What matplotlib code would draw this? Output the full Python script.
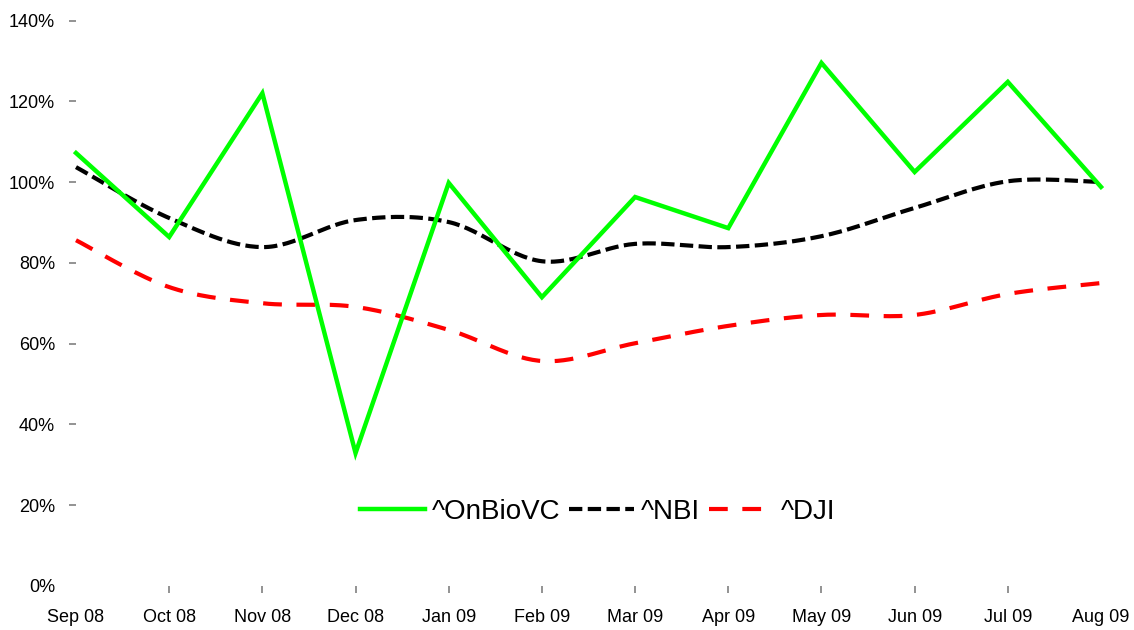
import numpy as np
import matplotlib
matplotlib.use("Agg")
import matplotlib.pyplot as plt

months = ["Sep 08", "Oct 08", "Nov 08", "Dec 08", "Jan 09", "Feb 09",
          "Mar 09", "Apr 09", "May 09", "Jun 09", "Jul 09", "Aug 09"]
onbiovc = [107.2, 86.4, 122.0, 32.9, 99.8, 71.5, 96.3, 88.6, 129.5, 102.5, 124.8, 98.8]
nbi = [103.7, 91.1, 83.9, 90.6, 90.1, 80.4, 84.7, 83.9, 86.6, 93.6, 100.2, 100.0]
dji = [85.6, 74.0, 70.0, 69.1, 63.4, 55.7, 60.1, 64.4, 67.1, 67.1, 72.3, 75.0]
yticks = [0, 20, 40, 60, 80, 100, 120, 140]
ylabels = [f"{v}%" for v in yticks]

plt.rcParams['font.family'] = ['Liberation Sans', 'DejaVu Sans']

W, H = 1134, 630
fig = plt.figure(figsize=(W / 100, H / 100), dpi=100)
left, right, bottom, top = 76, 1101, 586, 20.5
ax = fig.add_axes([left / W, (H - bottom) / H, (right - left) / W, (bottom - top) / H])

x = np.arange(len(months))
# pixel scale per unit (for screen-space smoothing like Excel)
sx = (right - left) / (len(months) - 1)
sy = (bottom - top) / 140.0


def smooth(xv, yv, n=30):
    P = np.column_stack([np.asarray(xv, float) * sx, np.asarray(yv, float) * sy])
    P = np.vstack([P[0], P, P[-1]])
    out = []
    for i in range(1, len(P) - 2):
        p0, p1, p2, p3 = P[i - 1], P[i], P[i + 1], P[i + 2]
        t = np.linspace(0, 1, n, endpoint=False)[:, None]
        c = 0.5 * ((2 * p1) + (-p0 + p2) * t + (2 * p0 - 5 * p1 + 4 * p2 - p3) * t ** 2
                   + (-p0 + 3 * p1 - 3 * p2 + p3) * t ** 3)
        out.append(c)
    out.append(P[-2][None, :])
    C = np.vstack(out)
    return C[:, 0] / sx, C[:, 1] / sy


ax.plot(x, onbiovc, color="#00ff00", lw=3.2, solid_joinstyle="miter",
        label="^OnBioVC", clip_on=False, zorder=3)
bx, by = smooth(x, nbi)
ax.plot(bx, by, color="black", lw=3.0, dashes=(3.2, 1.3), dash_capstyle="butt",
        label="^NBI", clip_on=False, zorder=2)
rx, ry = smooth(x, dji)
ax.plot(rx, ry, color="#ff0000", lw=3.0, dashes=(4.5, 3.5), dash_capstyle="butt",
        label="^DJI", clip_on=False, zorder=2)

ax.set_xlim(0, len(months) - 1)
ax.set_ylim(0, 140)
ax.set_xticks(x)
ax.set_xticklabels(months)
ax.set_yticks(yticks)
ax.set_yticklabels(ylabels)
for s in ax.spines.values():
    s.set_visible(False)
ax.tick_params(axis="both", colors="#808080", labelcolor="black", labelsize=13,
               direction="out", length=5, width=1.2)
ax.tick_params(axis="y", pad=10)
ax.tick_params(axis="x", pad=11.5)
xt = ax.xaxis.get_major_ticks()
xt[0].tick1line.set_visible(False)
xt[-1].tick1line.set_visible(False)
ax.yaxis.get_major_ticks()[0].tick1line.set_visible(False)

leg = ax.legend(loc="center", bbox_to_anchor=(0.509, 0.131), ncol=3, frameon=False,
                fontsize=20, handlelength=2.34, handletextpad=0.25, columnspacing=0.3,
                borderpad=0, borderaxespad=0)

fig.savefig("out.png", dpi=100, facecolor="white")
